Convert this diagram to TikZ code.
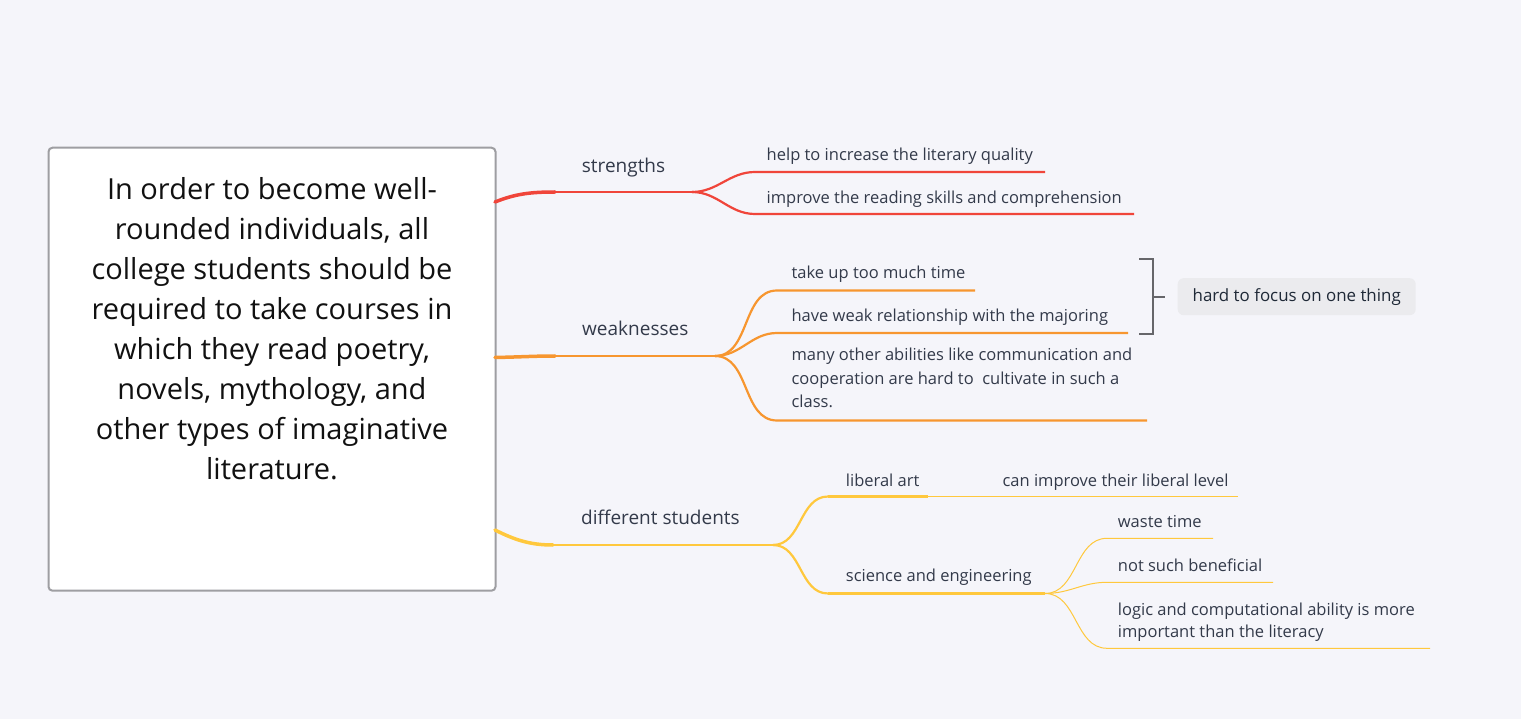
\documentclass[tikz,border=0pt]{standalone}
\usepackage{fontspec}
\setmainfont{Open Sans}
\definecolor{bgc}{HTML}{F5F5FA}
\definecolor{redc}{HTML}{F0453A}
\definecolor{orac}{HTML}{F7962F}
\definecolor{yelc}{HTML}{FFC83D}
\definecolor{txtc}{HTML}{333A4A}
\definecolor{boxb}{HTML}{9E9EA2}
\definecolor{brk}{HTML}{66666A}
\definecolor{callf}{HTML}{EBEBEE}
\definecolor{callt}{HTML}{1F2937}
\definecolor{claimc}{HTML}{111111}
\begin{document}
\begin{tikzpicture}[x=1pt,y=-1pt,
  lbl/.style={anchor=base west, inner sep=0pt, text=txtc, font=\fontsize{16.5}{23.3}\selectfont, align=left},
  toplbl/.style={anchor=base west, inner sep=0pt, text=txtc, font=\fontsize{19}{22}\selectfont},
  trunk/.style={line width=3.5pt, line cap=round},
  topic/.style={line width=2.5pt},
  sub/.style={line width=2.2pt},
  thinl/.style={line width=1pt}]
\fill[bgc] (0,0) rectangle (1521,719);
\useasboundingbox (0,0) rectangle (1521,719);
% root
\node[draw=boxb, line width=2pt, fill=white, rounded corners=4pt, minimum width=447pt, minimum height=443pt, inner sep=0pt] (root) at (272,369.2) {};
\node[anchor=base, inner sep=0pt, align=center, text=claimc, font=\fontsize{29}{40}\selectfont] (claim) at (272,479.3) {In order to become well-\\rounded individuals, all\\college students should be\\required to take courses in\\which they read poetry,\\novels, mythology, and\\other types of imaginative\\literature.};
% coordinates
\coordinate (r0) at (495,202);
\coordinate (r1) at (555,192);
\coordinate (r2) at (692,192);
\coordinate (ra) at (755,172); \coordinate (ra2) at (1045,172);
\coordinate (rb) at (755,214); \coordinate (rb2) at (1134,214);
\coordinate (o0) at (495,357.5);
\coordinate (o1) at (555,356);
\coordinate (o2) at (715,356);
\coordinate (oa) at (777,290.5); \coordinate (oa2) at (975,290.5);
\coordinate (ob) at (777,333); \coordinate (ob2) at (1128,333);
\coordinate (oc) at (777,420.5); \coordinate (oc2) at (1147,420.5);
\coordinate (y0) at (495,530);
\coordinate (y1) at (553,545);
\coordinate (y2) at (773,545);
\coordinate (ya) at (828,496.5); \coordinate (ya2) at (928,496.5); \coordinate (ya3) at (1238,496.5);
\coordinate (yb) at (828,593.5); \coordinate (yb2) at (1045,593.5);
\coordinate (yc) at (1107,538.3); \coordinate (yc2) at (1213,538.3);
\coordinate (yd) at (1107,582.3); \coordinate (yd2) at (1273,582.3);
\coordinate (ye) at (1107,648.3); \coordinate (ye2) at (1430,648.3);
\coordinate (bt1) at (1139,259); \coordinate (bt2) at (1152.5,259);
\coordinate (bb1) at (1139,334); \coordinate (bb2) at (1152.5,334);
\coordinate (bm) at (1152.5,296.7); \coordinate (bm2) at (1165,296.7);
% red branch
\draw[redc, trunk] (r0) .. controls (515,194) and (530,192) .. (r1);
\draw[redc, topic] (r1) -- (r2);
\draw[redc, sub] (r2) to[out=0,in=180] (ra) -- (ra2);
\draw[redc, sub] (r2) to[out=0,in=180] (rb) -- (rb2);
\node[toplbl] (str) at (581.7,173) {strengths};
\node[lbl] (s1) at (766.5,160.7) {help to increase the literary quality};
\node[lbl] (s2) at (766.5,203.3) {improve the reading skills and comprehension};
% orange branch
\draw[orac, trunk] (o0) .. controls (520,357) and (535,356) .. (o1);
\draw[orac, topic] (o1) -- (o2);
\draw[orac, sub] (o2) to[out=0,in=180] (oa) -- (oa2);
\draw[orac, sub] (o2) to[out=0,in=180] (ob) -- (ob2);
\draw[orac, sub] (o2) to[out=0,in=180] (oc) -- (oc2);
\node[toplbl] (weak) at (582,336) {weaknesses};
\node[lbl] (w1) at (791.4,278.3) {take up too much time};
\node[lbl] (w2) at (791.4,321.7) {have weak relationship with the majoring};
\node[lbl] (w3) at (791.4,407.5) {many other abilities like communication and\\cooperation are hard to\ \ cultivate in such a\\class.};
% bracket and callout
\draw[brk, line width=2pt] (bt1) -- (bt2) -- (bb2) -- (bb1);
\draw[brk, line width=2pt] (bm) -- (bm2);
\node[fill=callf, rounded corners=6pt, minimum width=238pt, minimum height=37pt, inner sep=0pt, text=callt, font=\fontsize{16.9}{20}\selectfont] (focus) at (1296.7,296.7) {hard to focus on one thing};
% yellow branch
\draw[yelc, trunk] (y0) .. controls (515,540) and (530,545) .. (y1);
\draw[yelc, topic] (y1) -- (y2);
\draw[yelc, sub] (y2) to[out=0,in=180] (ya);
\draw[yelc, topic] (ya) -- (ya2);
\draw[yelc, thinl] (ya2) -- (ya3);
\draw[yelc, sub] (y2) to[out=0,in=180] (yb);
\draw[yelc, topic] (yb) -- (yb2);
\draw[yelc, thinl] (yb2) to[out=0,in=180] (yc) -- (yc2);
\draw[yelc, thinl] (yb2) to[out=0,in=180] (yd) -- (yd2);
\draw[yelc, thinl] (yb2) to[out=0,in=180] (ye) -- (ye2);
\node[toplbl] (diff) at (581,524.3) {different students};
\node[lbl] (lib) at (845.7,486) {liberal art};
\node[lbl] (libt) at (1002.4,486) {can improve their liberal level};
\node[lbl] (sci) at (845.7,581.7) {science and engineering};
\node[lbl] (sc1) at (1117.7,527.7) {waste time};
\node[lbl] (sc2) at (1117.7,571.7) {not such beneficial};
\node[lbl, font=\fontsize{16.5}{21.6}\selectfont] (sc3) at (1117.7,637.3) {logic and computational ability is more\\important than the literacy};
\end{tikzpicture}
\end{document}
